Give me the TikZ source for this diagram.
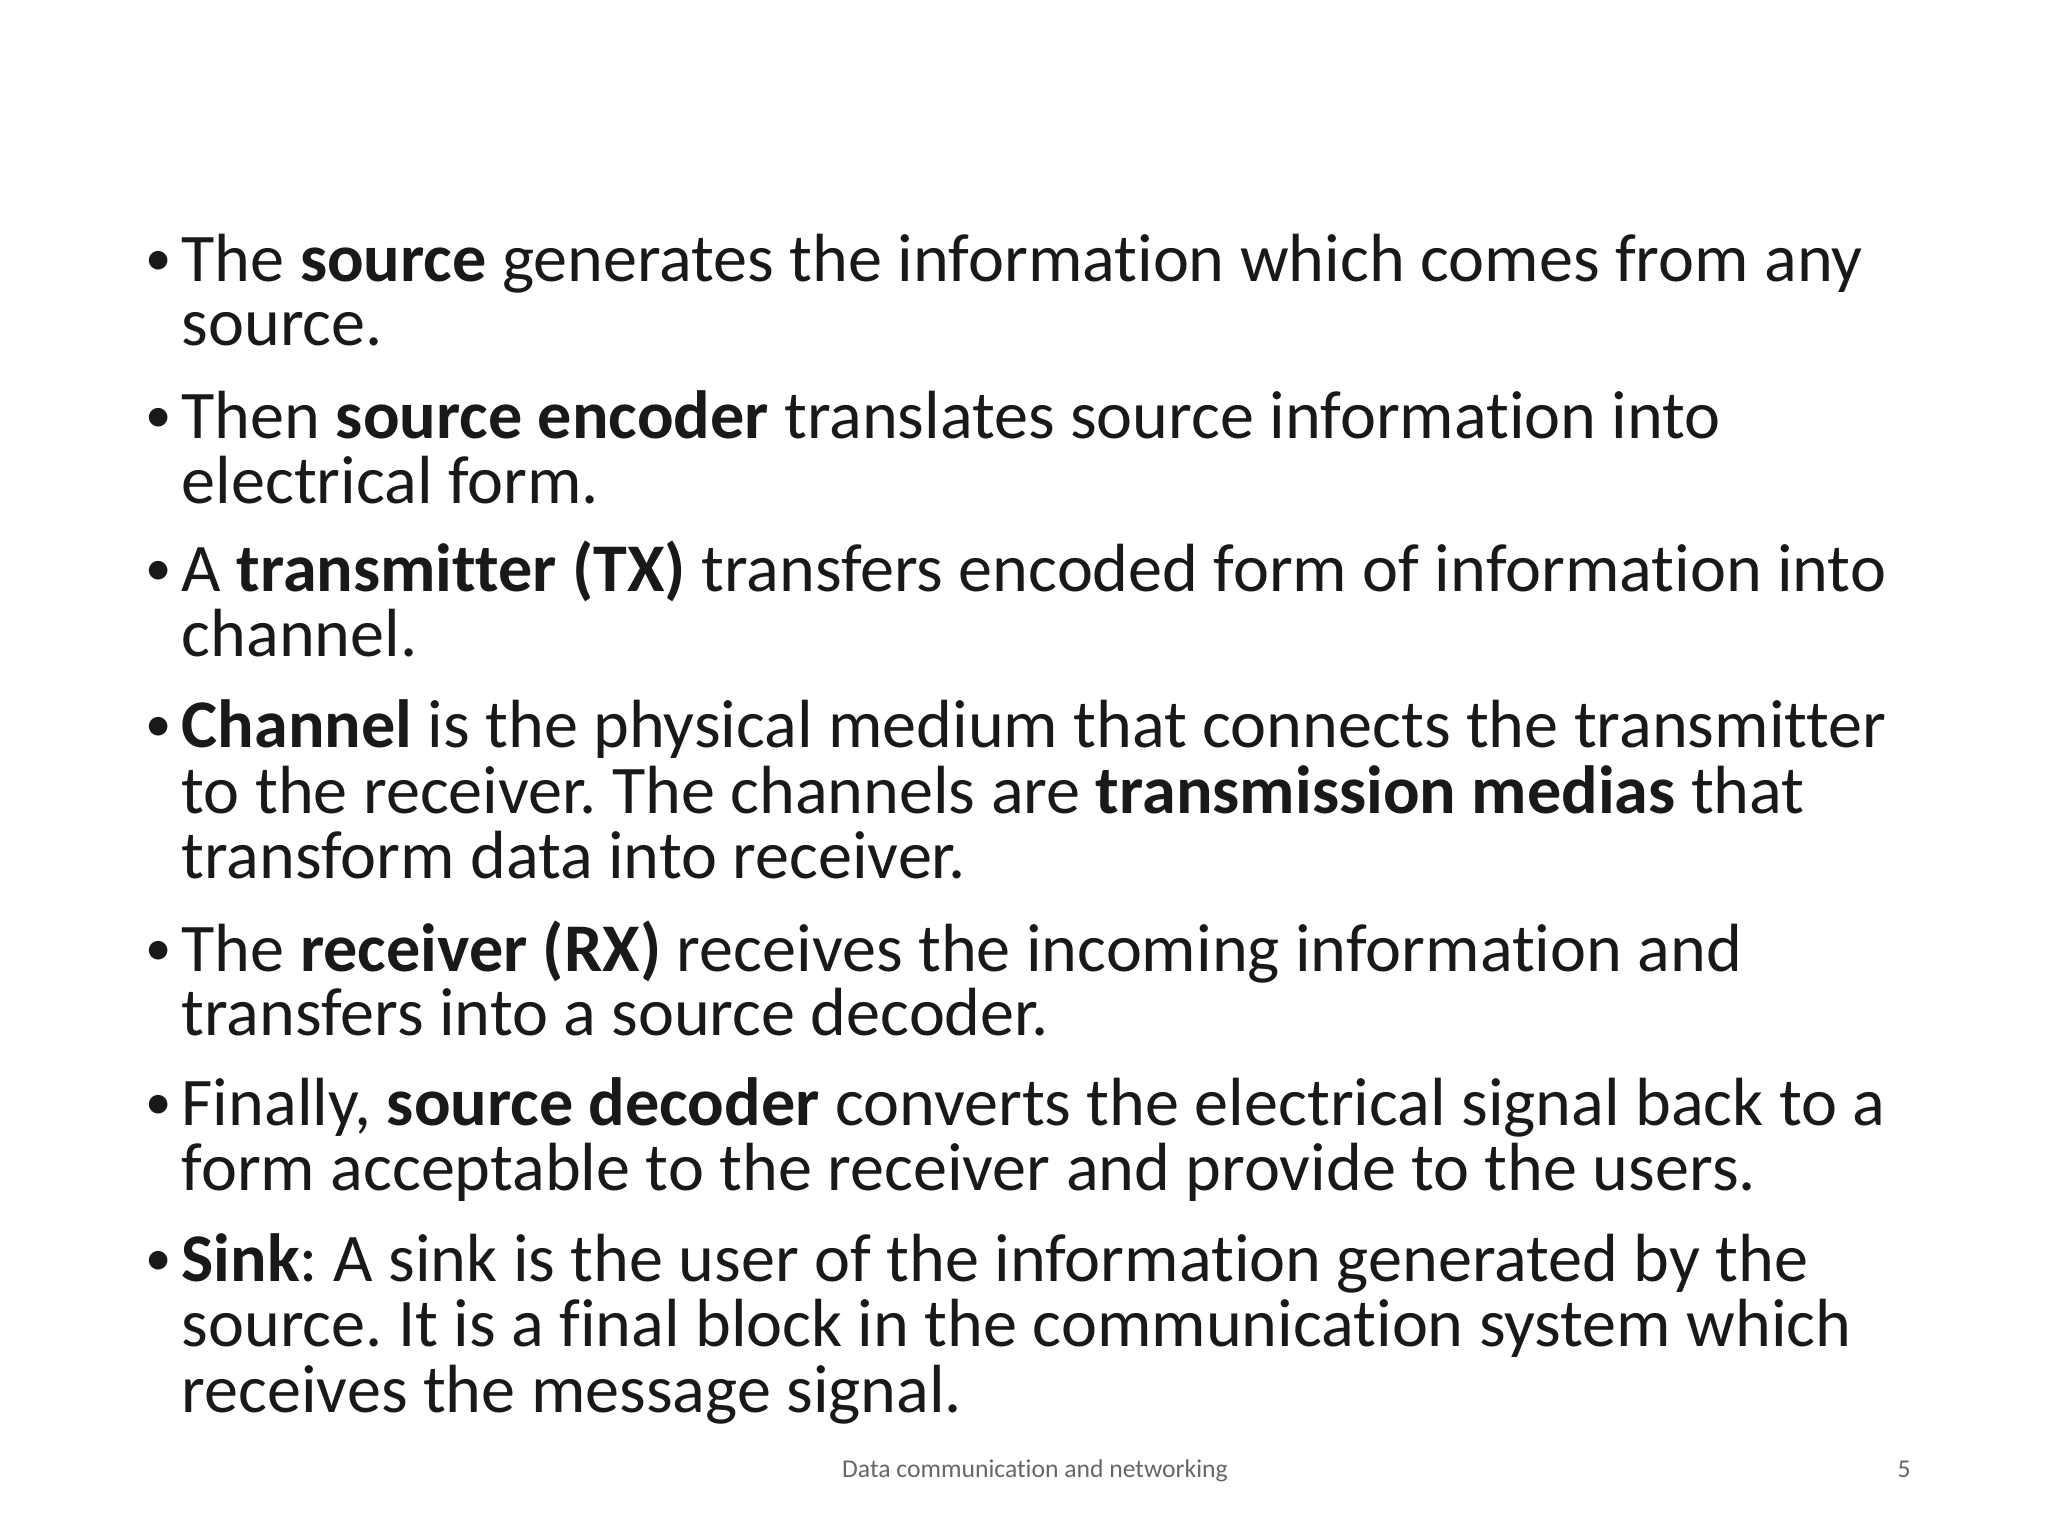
\documentclass[tikz,border=0pt]{standalone}
\usepackage{fontspec}
\setmainfont{Carlito}[Ligatures=NoCommon]
\frenchspacing
\begin{document}
\begin{tikzpicture}[x=1cm,y=1cm,
  ln/.style={anchor=base west,inner sep=0pt,font=\fontsize{19.4}{22}\selectfont,text=black!90},
  bl/.style={anchor=base west,inner sep=0pt,font=\fontsize{15}{18}\selectfont,text=black!90},
  foot/.style={anchor=base,inner sep=0pt,font=\fontsize{7.3}{8}\selectfont,text=black!60}]
\useasboundingbox (0,0) rectangle (20.48,15.36);
\def\Y#1{15.36-#1/100}
\foreach \y in {276,433,586,742,966,1120,1276}
  \node[bl] at (1.45,{\Y{\y}}) {•};
\node[ln] (l1) at (1.81,{\Y{282}}) {The \textbf{source} generates the information which comes from any};
\node[ln] (l2) at (1.81,{\Y{346}}) {source.};
\node[ln] (l3) at (1.81,{\Y{439}}) {Then \textbf{source encoder} translates source information into};
\node[ln] (l4) at (1.81,{\Y{504}}) {electrical form.};
\node[ln] (l5) at (1.81,{\Y{592}}) {A \textbf{transmitter (TX)} transfers encoded form of information into};
\node[ln] (l6) at (1.81,{\Y{657}}) {channel.};
\node[ln] (l7) at (1.81,{\Y{748}}) {\textbf{Channel} is the physical medium that connects the transmitter};
\node[ln] (l8) at (1.81,{\Y{814}}) {to the receiver. The channels are \textbf{transmission medias} that};
\node[ln] (l9) at (1.81,{\Y{879}}) {transform data into receiver.};
\node[ln] (l10) at (1.81,{\Y{972}}) {The \textbf{receiver (RX)} receives the incoming information and};
\node[ln] (l11) at (1.81,{\Y{1036}}) {transfers into a source decoder.};
\node[ln] (l12) at (1.81,{\Y{1126}}) {Finally, \textbf{source decoder} converts the electrical signal back to a};
\node[ln] (l13) at (1.81,{\Y{1191}}) {form acceptable to the receiver and provide to the users.};
\node[ln] (l14) at (1.81,{\Y{1282}}) {\textbf{Sink}: A sink is the user of the information generated by the};
\node[ln] (l15) at (1.81,{\Y{1347}}) {source. It is a final block in the communication system which};
\node[ln] (l16) at (1.81,{\Y{1413}}) {receives the message signal.};
\node[foot] (f1) at (10.35,{\Y{1478}}) {Data communication and networking};
\node[foot] (f2) at (19.04,{\Y{1478}}) {5};
\end{tikzpicture}
\end{document}
